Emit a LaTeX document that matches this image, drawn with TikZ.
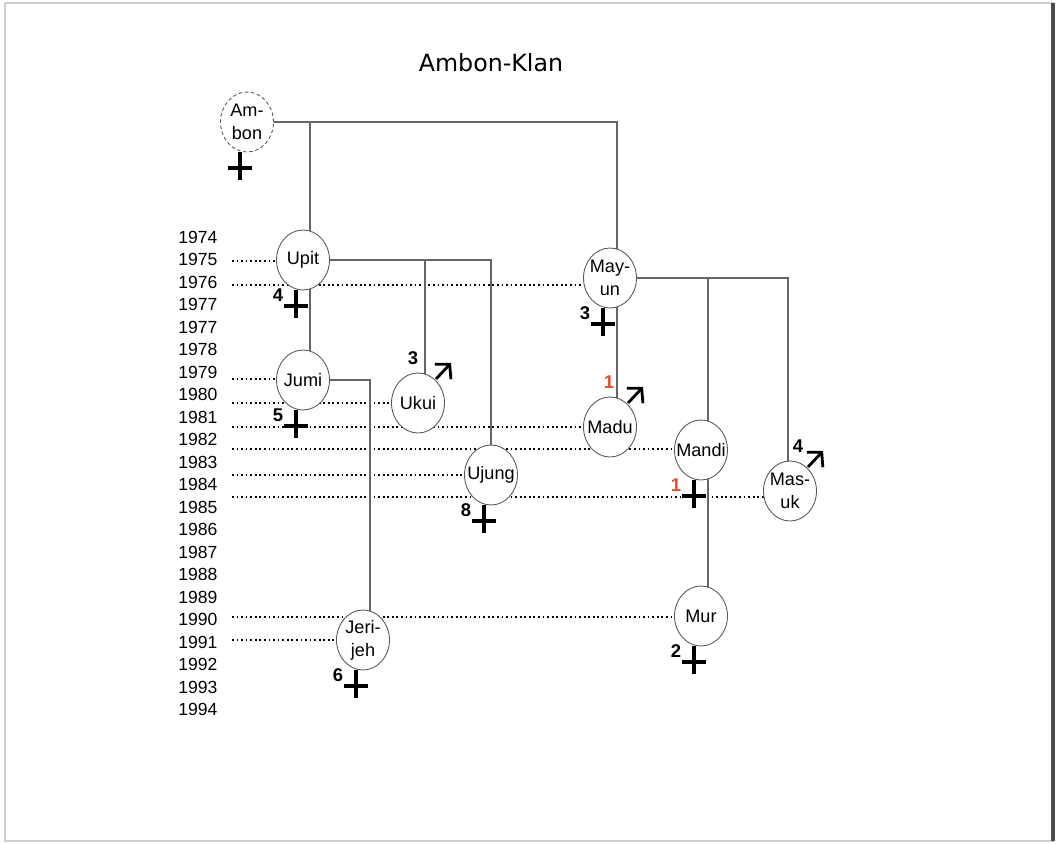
\documentclass[tikz,border=0pt]{standalone}
\usepackage{fontspec}
\setmainfont{Liberation Sans}
\newfontfamily\titelfont{DejaVu Sans}
\usepackage{tikz}
\usetikzlibrary{shapes.geometric, arrows.meta, calc, backgrounds}
\usepackage{xcolor}
\definecolor{klanrot}{RGB}{228,78,42}
\tikzstyle{person} = [ellipse, minimum width=1.06cm, minimum height=1.2cm,
    inner xsep=-3.5pt, inner ysep=0pt, align=center, draw=black!65, line width=0.5pt,
    fill=white, font=\fontsize{10.3}{13}\selectfont]
\tikzstyle{ahn} = [person, dash pattern=on 2pt off 1.5pt]
\tikzstyle{tree} = [draw=black!60, line width=0.6pt]
\tikzstyle{yearline} = [line width=1pt, dash pattern=on 1pt off 1.6pt]
\tikzstyle{yearlbl} = [anchor=west, inner sep=0pt, font=\fontsize{10}{11}\selectfont]
\tikzstyle{kreuz} = [line width=2.3pt]
\tikzstyle{mann} = [line width=1.6pt, -{Straight Barb[length=2mm, width=4.4mm]}]
\tikzstyle{zahl} = [inner sep=0pt, font=\fontsize{10.5}{11}\selectfont\bfseries]
\newcommand{\kreuzchen}[1]{%
  \draw[kreuz] ($(#1.south)+(-7,0)$) -- ++(0,28);
  \draw[kreuz] ($(#1.south)+(-19,16)$) -- ++(24,0);}
\newcommand{\tot}[3][black]{%
  \kreuzchen{#2}
  \node (#2tot) [zahl, text=#1] at ($(#2.south)+(-25,5)$) {#3};}
\newcommand{\maennl}[4][black]{%
  \draw[mann] ($(#2.center)+(18,-24)$) -- ++(15,-16);
  \node (#2mann) [zahl, text=#1] at ($(#2.center)+(#4,-45)$) {#3};}

\begin{document}
\begin{tikzpicture}[x=0.02cm, y=-0.02cm]
\useasboundingbox (0,0) rectangle (1056,843);
\draw[black!18, line width=1.5pt] (5,3) rectangle (1053,841);
\draw[black!70, line width=2pt] (1053,3) -- (1053,841);

\node (titel) [font=\titelfont\fontsize{13.5}{16}\selectfont] at (491,63) {Ambon-Klan};

\foreach \jahr [count=\i from 0] in {1974,1975,1976,1977,1977,1978,1979,1980,1981,1982,1983,
    1984,1985,1986,1987,1988,1989,1990,1991,1992,1993,1994}
  \node (j\i) [yearlbl] at (178,{237+22.5*\i}) {\jahr};

\node (ambon) [ahn] at (247,122) {Am-\\bon};
\node (upit) [person] at (303,260) {Upit};
\node (jumi) [person] at (303,380) {Jumi};
\node (ukui) [person] at (418,403) {Ukui};
\node (ujung) [person] at (491,475) {Ujung};
\node (jerijeh) [person] at (363,640) {Jeri-\\jeh};
\node (mayun) [person] at (610,278) {May-\\un};
\node (madu) [person] at (610,427) {Madu};
\node (mandi) [person] at (701,450) {Mandi};
\node (masuk) [person] at (790,491) {Mas-\\uk};
\node (mur) [person] at (701,616) {Mur};

\coordinate (z1975) at (232,261);
\coordinate (z1976) at (232,285);
\coordinate (z1979) at (232,379);
\coordinate (z1980) at (232,403);
\coordinate (z1981) at (232,427);
\coordinate (z1982) at (232,449);
\coordinate (z1984) at (232,475);
\coordinate (z1985) at (232,497);
\coordinate (z1990) at (232,617);
\coordinate (z1991) at (232,640);

\begin{scope}[on background layer]
\draw[yearline] (z1975) -- (z1975 -| upit);
\draw[yearline] (z1976) -- (z1976 -| mayun);
\draw[yearline] (z1979) -- (z1979 -| jumi);
\draw[yearline] (z1980) -- (z1980 -| ukui);
\draw[yearline] (z1981) -- (z1981 -| madu);
\draw[yearline] (z1982) -- (z1982 -| mandi);
\draw[yearline] (z1984) -- (z1984 -| ujung);
\draw[yearline] (z1985) -- (z1985 -| masuk);
\draw[yearline] (z1990) -- (z1990 -| mur);
\draw[yearline] (z1991) -- (z1991 -| jerijeh);

\draw[tree] (ambon.east) -| ($(mayun.center)+(7,0)$);
\draw[tree] ($(upit.center)+(7,0)$) |- (ambon.east);
\draw[tree] ($(upit.center)+(7,0)$) -- ($(jumi.center)+(7,0)$);
\draw[tree] (upit.east) -| (ujung.center);
\draw[tree] (upit.east) -| ($(ukui.center)+(7,0)$);
\draw[tree] (jumi.east) -| ($(jerijeh.center)+(7,0)$);
\draw[tree] ($(mayun.center)+(7,0)$) -- ($(madu.center)+(7,0)$);
\draw[tree] (mayun.east) -| ($(mandi.center)+(7,0)$);
\draw[tree] (mayun.east) -| ($(masuk.center)+(-2,0)$);
\draw[tree] ($(mandi.center)+(7,0)$) -- ($(mur.center)+(7,0)$);
\end{scope}

\kreuzchen{ambon}
\tot{upit}{4}
\tot{jumi}{5}
\tot{ujung}{8}
\tot{jerijeh}{6}
\tot{mayun}{3}
\tot[klanrot]{mandi}{1}
\tot{mur}{2}
\maennl{ukui}{3}{-5}
\maennl[klanrot]{madu}{1}{-1}
\maennl{masuk}{4}{8}
\end{tikzpicture}
\end{document}
